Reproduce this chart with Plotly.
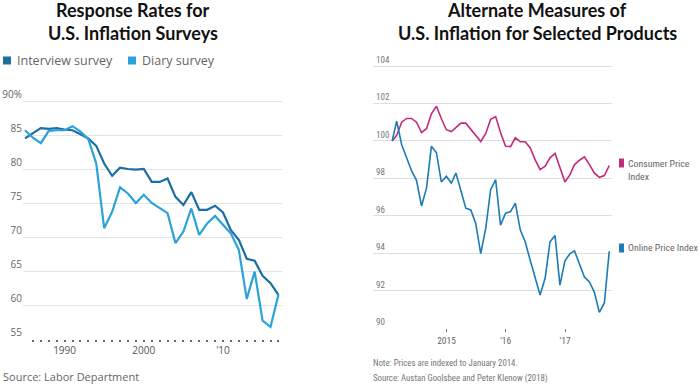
import plotly.graph_objects as go
import pandas as pd

# ---------------- Data ----------------
years = list(range(1985, 2018))
interview_survey = [84.5, 85.3, 86.0, 85.9, 86.0, 85.8, 85.7, 85.1, 84.5, 83.4,
                    80.8, 79.0, 80.2, 80.0, 79.9, 80.0, 78.1, 78.1, 78.6, 75.9,
                    74.7, 76.6, 74.0, 74.0, 74.6, 73.6, 71.0, 69.6, 66.8, 66.5,
                    64.3, 63.2, 61.5]
diary_survey = [85.7, 84.6, 83.8, 85.6, 85.7, 85.7, 86.3, 85.5, 84.4, 80.8,
                71.3, 73.7, 77.3, 76.4, 75.0, 76.2, 75.0, 74.2, 73.5, 69.1,
                70.8, 74.2, 70.3, 72.0, 73.1, 71.8, 70.5, 68.1, 60.9, 64.9,
                57.7, 56.8, 61.5]
left_ytick_vals = [55, 60, 65, 70, 75, 80, 85, 90]
left_ytick_text = ["55", "60", "65", "70", "75", "80", "85", "90%"]
left_xtick_labels = {1990: "1990", 2000: "2000", 2010: "'10"}

months = pd.date_range("2014-01-31", periods=45, freq="ME")
consumer_price_index = [100.0, 100.3, 101.0, 101.2, 101.2, 101.0, 100.45, 100.65, 101.45, 101.85,
                        101.2, 100.6, 100.5, 100.7, 100.95, 100.95, 100.6, 100.3, 99.97, 100.4,
                        101.15, 101.3, 100.45, 99.72, 99.7, 100.17, 99.96, 99.96, 99.63, 99.0,
                        98.47, 98.65, 99.1, 99.33, 98.56, 97.81, 98.2, 98.74, 98.97, 99.15,
                        98.74, 98.29, 98.06, 98.15, 98.68]
online_price_index = [100.0, 101.05, 99.8, 99.15, 98.4, 97.9, 96.53, 97.48, 99.72, 99.37,
                      97.81, 98.11, 97.75, 98.29, 97.3, 96.41, 96.32, 95.6, 93.99, 95.34,
                      97.4, 97.93, 95.51, 96.14, 96.23, 96.68, 95.24, 94.62, 93.63, 92.73,
                      91.78, 92.68, 94.62, 94.95, 92.3, 93.6, 93.99, 94.13, 93.36, 92.73,
                      92.47, 91.93, 90.85, 91.35, 94.11]
right_ytick_vals = [90, 92, 94, 96, 98, 100, 102, 104]
right_xtick_vals = ["2015-01-01", "2016-01-01", "2017-01-01"]
right_xtick_text = ["2015", "'16", "'17"]

# ---------------- Style ----------------
W, H = 700, 385
ML, MR, MT, MB = 0, 0, 30, 20
PW, PH = W - ML - MR, H - MT - MB
def px(x):
    return (x - ML) / PW
def py(y):
    return 1 - (y - MT) / PH

C_INTERVIEW = "#1b6fa3"
C_DIARY = "#2ba3da"
C_CPI = "#c42a7b"
C_ONLINE = "#1a7bb6"
TITLE_FONT = "Lato, 'Open Sans', sans-serif"
BODY_FONT = "'Open Sans', Lato, sans-serif"
NARROW_FONT = "'Liberation Sans Narrow', 'Roboto Condensed', 'Arial Narrow', 'DejaVu Sans Condensed', sans-serif"

fig = go.Figure()

fig.add_trace(go.Scatter(x=years, y=interview_survey, mode="lines",
                         line=dict(color=C_INTERVIEW, width=2.2), xaxis="x", yaxis="y",
                         name="Interview survey", showlegend=False))
fig.add_trace(go.Scatter(x=years, y=diary_survey, mode="lines",
                         line=dict(color=C_DIARY, width=2.2), xaxis="x", yaxis="y",
                         name="Diary survey", showlegend=False))
fig.add_trace(go.Scatter(x=months, y=consumer_price_index, mode="lines",
                         line=dict(color=C_CPI, width=1.6), xaxis="x2", yaxis="y2",
                         name="Consumer Price Index", showlegend=False))
fig.add_trace(go.Scatter(x=months, y=online_price_index, mode="lines",
                         line=dict(color=C_ONLINE, width=1.6), xaxis="x2", yaxis="y2",
                         name="Online Price Index", showlegend=False))

left_tickvals = list(range(1986, 2018))
left_ticktext = [left_xtick_labels.get(v, "") for v in left_tickvals]

# left y: 55 at 339px, 90 at 101px (6.8 px per unit); extended a little on top
# right y: 90 at 328.3px, 104 at 66px (18.74 px per unit); extended a little on top
fig.update_layout(
    width=W, height=H,
    margin=dict(l=ML, r=MR, t=MT, b=MB),
    paper_bgcolor="white", plot_bgcolor="white",
    xaxis=dict(domain=[px(23), px(282)], range=[1984.75, 2017.45],
               tickmode="array", tickvals=left_tickvals, ticktext=left_ticktext,
               ticks="outside", ticklen=2, tickwidth=2, tickcolor="#666",
               showgrid=False, zeroline=False, showline=False,
               tickfont=dict(family=BODY_FONT, size=10, color="#555")),
    yaxis=dict(domain=[py(339), py(101 - 0.8 * 6.8)], range=[55, 90.8],
               tickmode="array", tickvals=left_ytick_vals, ticktext=left_ytick_text,
               ticklabelposition="outside top", ticks="",
               showgrid=True, gridcolor="#e4e4e4", gridwidth=1,
               zeroline=False, showline=False,
               tickfont=dict(family=BODY_FONT, size=10, color="#666")),
    xaxis2=dict(domain=[px(373), px(612)], range=["2013-10-05", "2017-10-17"],
                type="date", tickmode="array", tickvals=right_xtick_vals, ticktext=right_xtick_text,
                ticks="outside", ticklen=3, tickwidth=1, tickcolor="#777",
                showgrid=False, zeroline=False, showline=False, anchor="y2",
                tickfont=dict(family=NARROW_FONT, size=9.5, color="#666")),
    yaxis2=dict(domain=[py(328.3), py(66 - 0.7 * 18.74)], range=[90, 104.7], anchor="x2",
                tickmode="array", tickvals=right_ytick_vals,
                ticklabelposition="inside top", ticks="",
                showgrid=True, gridcolor="#dedede", gridwidth=1,
                zeroline=False, showline=False,
                tickfont=dict(family=NARROW_FONT, size=9, color="#777")),
)

shapes = [
    dict(type="rect", xref="paper", yref="paper", x0=px(3), x1=px(11), y0=py(64.5), y1=py(56.5),
         fillcolor=C_INTERVIEW, line=dict(width=0)),
    dict(type="rect", xref="paper", yref="paper", x0=px(128), x1=px(136), y0=py(64.5), y1=py(56.5),
         fillcolor=C_DIARY, line=dict(width=0)),
    dict(type="rect", xref="paper", yref="paper", x0=px(619), x1=px(624), y0=py(167.5), y1=py(158.5),
         fillcolor=C_CPI, line=dict(width=0)),
    dict(type="rect", xref="paper", yref="paper", x0=px(619), x1=px(624), y0=py(252.5), y1=py(243.5),
         fillcolor=C_ONLINE, line=dict(width=0)),
]
fig.update_layout(shapes=shapes)

def ann(text, x, y, size, family, color="#666", xanchor="left", yanchor="middle", bold=False):
    if bold:
        text = "<b>" + text + "</b>"
    fig.add_annotation(text=text, x=px(x), y=py(y), xref="paper", yref="paper",
                       xanchor=xanchor, yanchor=yanchor, showarrow=False, align=xanchor,
                       font=dict(family=family, size=size, color=color))

# Titles
ann("Response Rates for", 133, 10, 18, TITLE_FONT, "#111", "center", bold=True)
ann("U.S. Inflation Surveys", 133, 33, 18, TITLE_FONT, "#111", "center", bold=True)
ann("Alternate Measures of", 537, 10, 18, TITLE_FONT, "#111", "center", bold=True)
ann("U.S. Inflation for Selected Products", 537, 33, 18, TITLE_FONT, "#111", "center", bold=True)

# Left legend
ann("Interview survey", 15, 60.5, 12.5, BODY_FONT, "#666")
ann("Diary survey", 140, 60.5, 12.5, BODY_FONT, "#666")

# Left source
ann("Source: Labor Department", 1, 376, 11, BODY_FONT, "#666")

# Right legend labels
ann("Consumer Price<br>Index", 626, 170.5, 9.8, NARROW_FONT, "#666")
ann("Online Price Index", 626, 248, 9.8, NARROW_FONT, "#666")

# Right notes
ann("Note: Prices are indexed to January 2014.", 371, 363, 8.8, NARROW_FONT, "#777")
ann("Source: Austan Goolsbee and Peter Klenow (2018)", 371, 378, 8.8, NARROW_FONT, "#777")

page_fix = (
    "var h=document.documentElement, b=document.body;"
    "h.style.margin='0'; h.style.padding='0'; h.style.overflow='hidden';"
    "b.style.margin='0'; b.style.padding='0'; b.style.overflow='hidden';"
    "var d=document.getElementById('{plot_id}');"
    "d.style.position='absolute'; d.style.top='0px'; d.style.left='0px';"
)
fig.write_html("out.html", config={"displayModeBar": False}, post_script=page_fix)
